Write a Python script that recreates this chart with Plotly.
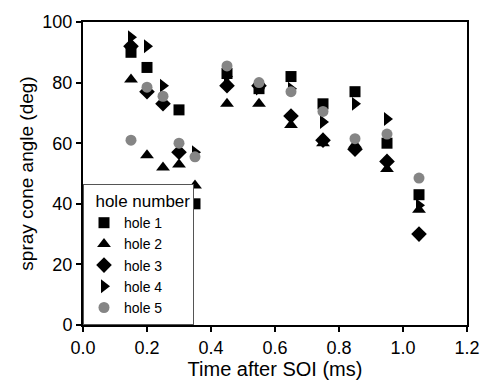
import plotly.graph_objects as go

# Data
t_h1 = [0.15, 0.20, 0.30, 0.35, 0.45, 0.55, 0.65, 0.75, 0.85, 0.95, 1.05]
a_h1 = [90, 85, 71, 40, 83, 78, 82, 73, 77, 60, 43]

t_h2 = [0.15, 0.20, 0.25, 0.30, 0.35, 0.45, 0.55, 0.65, 0.75, 0.85, 0.95, 1.05]
a_h2 = [81, 56, 52, 53, 46, 73, 73, 66, 60, 59.5, 51.5, 38]

t_h3 = [0.15, 0.20, 0.25, 0.30, 0.45, 0.55, 0.65, 0.75, 0.85, 0.95, 1.05]
a_h3 = [92, 77, 73, 57, 79, 79, 69, 61, 58, 54, 30]

t_h4 = [0.15, 0.20, 0.25, 0.35, 0.45, 0.55, 0.65, 0.75, 0.85, 0.95, 1.05]
a_h4 = [95, 92, 79, 57, 82, 78, 78, 67, 73, 68, 39.5]

t_h5 = [0.15, 0.20, 0.25, 0.30, 0.35, 0.45, 0.55, 0.65, 0.75, 0.85, 0.95, 1.05]
a_h5 = [61, 78.5, 75.5, 60, 55.5, 85.5, 80, 77, 70.5, 61.5, 63, 48.5]

x_ticks = [0.0, 0.2, 0.4, 0.6, 0.8, 1.0, 1.2]
y_ticks = [0, 20, 40, 60, 80, 100]

series = [
    ("hole 1", t_h1, a_h1, "square", 11, "black"),
    ("hole 2", t_h2, a_h2, "triangle-up", 12, "black"),
    ("hole 3", t_h3, a_h3, "diamond", 12, "black"),
    ("hole 4", t_h4, a_h4, "triangle-right", 12, "black"),
    ("hole 5", t_h5, a_h5, "circle", 11, "#858585"),
]

fig = go.Figure()
for name, xs, ys, sym, sz, col in series:
    fig.add_trace(go.Scatter(
        x=xs, y=ys, mode="markers", name=name,
        marker=dict(symbol=sym, size=sz, color=col, line=dict(width=0)),
    ))

FONT = "Liberation Sans, Arial, sans-serif"
axis_common = dict(
    showline=True, linecolor="black", linewidth=2, mirror=True,
    ticks="outside", ticklen=5, tickwidth=1.5, tickcolor="black",
    showgrid=False, zeroline=False,
    tickfont=dict(family=FONT, size=18, color="black"),
)

fig.update_layout(
    width=492, height=389,
    margin=dict(l=83, r=18, t=15, b=64),
    paper_bgcolor="white", plot_bgcolor="white",
    font=dict(family=FONT, color="black"),
    xaxis=dict(range=[0, 1.2], tickvals=x_ticks, tickformat=".1f",
               title=dict(text="Time after SOI (ms)", font=dict(size=20), standoff=4),
               **axis_common),
    yaxis=dict(range=[0, 100], tickvals=y_ticks,
               title=dict(text="spray cone angle (deg)", font=dict(size=19), standoff=4),
               **axis_common),
    legend=dict(
        x=0, y=0, xanchor="left", yanchor="bottom",
        bgcolor="white", bordercolor="#555", borderwidth=1,
        title=dict(text="\u00a0\u00a0hole number", font=dict(size=17)),
        font=dict(size=14), tracegroupgap=0, itemwidth=30,
    ),
    showlegend=True,
)

fig.write_html("out.html")
